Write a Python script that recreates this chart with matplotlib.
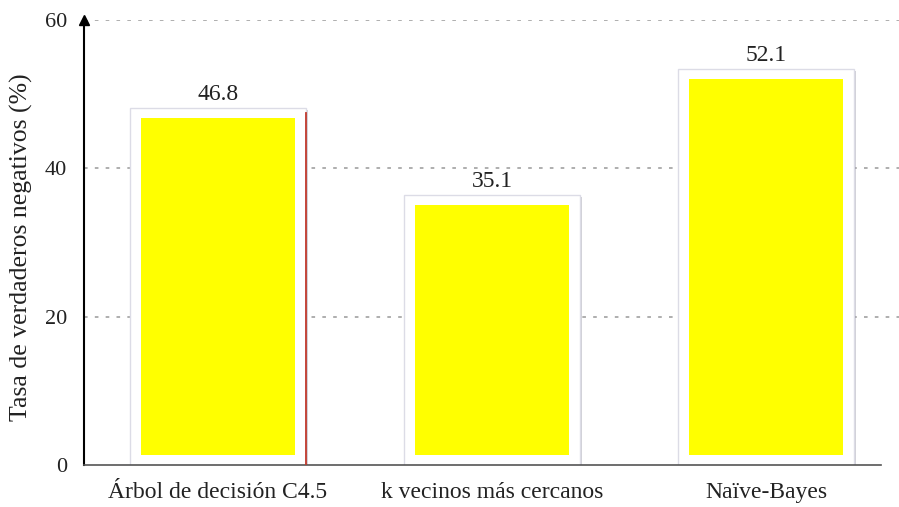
import matplotlib.pyplot as plt
import matplotlib.patheffects as pe
import numpy as np

plt.rcParams['font.family'] = ['Liberation Serif', 'DejaVu Serif']

categories = ['Árbol de decisión C4.5', 'k vecinos más cercanos', 'Naïve-Bayes']
values = [46.8, 35.1, 52.1]
yticks = [0, 20, 40, 60]

fig = plt.figure(figsize=(8.99, 5.07), dpi=100)
ax = fig.add_axes([84 / 899, 42 / 507, 815 / 899, 445 / 507])

x = np.arange(len(categories))

# white frame behind each bar, with a soft shadow
frames = ax.bar(x, [v + 1.6 for v in values], width=0.64, bottom=-0.3,
                color='white', edgecolor='#dcdce6', linewidth=1.0, zorder=2)
for p in frames:
    p.set_path_effects([pe.SimplePatchShadow(offset=(1.5, -1.5), shadow_rgbFace='#8a8a9a', alpha=0.4),
                        pe.Normal()])

# yellow bars
ax.bar(x, [v - 1.35 for v in values], width=0.56, bottom=1.35,
       color='#ffff00', edgecolor='none', zorder=3)

# thin red edge on the first bar
ax.plot([x[0] + 0.32, x[0] + 0.32], [0, values[0] + 0.6], color='#c0392b', lw=1.3, zorder=4)

for xi, v in zip(x, values):
    ax.text(xi, v + 1.7, f'{v}', ha='center', va='bottom', fontsize=17, color='#222222', zorder=5)

ax.set_xlim(-0.489, 2.485)
ax.set_ylim(0, 60)
ax.set_yticks(yticks)
ax.set_yticklabels([str(t) for t in yticks], fontsize=16, color='#222222')
ax.set_xticks(x)
ax.set_xticklabels(categories, fontsize=17, color='#222222')
ax.tick_params(axis='both', length=0)
ax.tick_params(axis='x', pad=12)
ax.tick_params(axis='y', pad=12)

for t in yticks[1:]:
    ax.axhline(t, color='#a8a8a8', lw=1.3, ls=(0, (2, 4)), zorder=1)

for s in ['top', 'right']:
    ax.spines[s].set_visible(False)
ax.spines['left'].set_color('black')
ax.spines['left'].set_linewidth(1.5)
ax.spines['bottom'].set_color('#555555')
ax.spines['bottom'].set_linewidth(1.2)
ax.spines['bottom'].set_bounds(-0.489, 2.42)

# arrow head at the top of the y axis
ax.plot(-0.489, 60, marker='^', color='black', markersize=7, clip_on=False, zorder=6)

ax.set_ylabel('Tasa de verdaderos negativos (%)', fontsize=18.5, color='#222222')
ax.yaxis.set_label_coords(-0.063, 0.49)

fig.savefig('out.png', dpi=100)
